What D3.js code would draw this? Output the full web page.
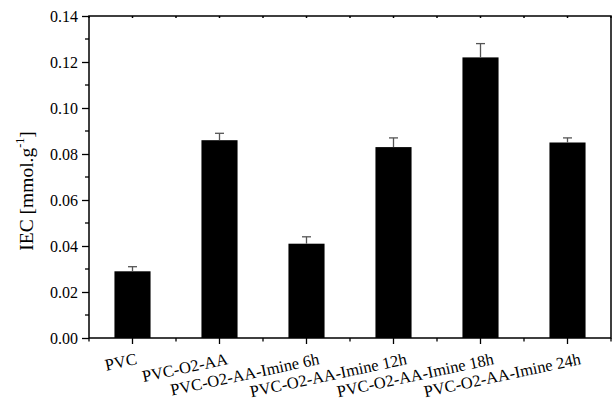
<!DOCTYPE html>
<html>
<head>
<meta charset="utf-8">
<script src="https://cdn.jsdelivr.net/npm/d3@7"></script>
<style>
  html, body { margin: 0; padding: 0; background: #fff; }
  svg { display: block; font-family: "Liberation Serif", "DejaVu Serif", serif; }
</style>
</head>
<body>
<svg id="chart" width="612" height="402"></svg>
<script>
/* ── IEC bar chart ───────────────────────────────────────────── */

const categories = [
  "PVC",
  "PVC-O2-AA",
  "PVC-O2-AA-Imine 6h",
  "PVC-O2-AA-Imine 12h",
  "PVC-O2-AA-Imine 18h",
  "PVC-O2-AA-Imine 24h",
];
const iecValues = [0.029, 0.086, 0.041, 0.083, 0.122, 0.085];
const iecErrors = [0.002, 0.003, 0.003, 0.004, 0.006, 0.002];
const yTicks    = [0, 0.02, 0.04, 0.06, 0.08, 0.10, 0.12, 0.14];
const yMinor    = [0.01, 0.03, 0.05, 0.07, 0.09, 0.11, 0.13];

const W = 612, H = 402;
const M = { left: 89, right: 1, top: 16, bottom: 64 };

const svg = d3.select("#chart");

const x = d3.scaleBand()
  .domain(categories)
  .range([M.left, W - M.right])
  .paddingInner(0)
  .paddingOuter(0);

const y = d3.scaleLinear()
  .domain([0, 0.14])
  .range([H - M.bottom, M.top]);

const barW = x.bandwidth() * 0.415;
const x0 = M.left, x1 = W - M.right;
const y0 = H - M.bottom, y1 = M.top;

// ── Bars ─────────────────────────────────────────────────────────
svg.append("g")
  .selectAll("rect")
  .data(categories)
  .join("rect")
    .attr("x", d => x(d) + x.bandwidth() / 2 - barW / 2)
    .attr("y", (d, i) => y(iecValues[i]))
    .attr("width", barW)
    .attr("height", (d, i) => y0 - y(iecValues[i]))
    .attr("fill", "#000");

// ── Error bars (upper only) ──────────────────────────────────────
const eb = svg.append("g")
  .attr("stroke", "#555")
  .attr("stroke-width", 1.3);

categories.forEach((c, i) => {
  const cx = x(c) + x.bandwidth() / 2;
  eb.append("line")
    .attr("x1", cx).attr("x2", cx)
    .attr("y1", y(iecValues[i])).attr("y2", y(iecValues[i] + iecErrors[i]));
  eb.append("line")
    .attr("x1", cx - 4.5).attr("x2", cx + 4.5)
    .attr("y1", y(iecValues[i] + iecErrors[i])).attr("y2", y(iecValues[i] + iecErrors[i]));
});

// ── Axes ─────────────────────────────────────────────────────────
const yAxis = d3.axisLeft(y)
  .tickValues(yTicks)
  .tickSize(7)
  .tickPadding(4)
  .tickFormat(d3.format(".2f"));

const yg = svg.append("g")
  .attr("transform", `translate(${x0},0)`)
  .call(yAxis);

yg.select(".domain").remove();
yg.selectAll(".tick line").attr("stroke", "#000").attr("stroke-width", 1.3);
yg.selectAll(".tick text")
  .attr("fill", "#000")
  .attr("font-size", 16)
  .attr("font-family", "Liberation Serif, serif");

// minor y ticks
svg.append("g")
  .selectAll("line")
  .data(yMinor)
  .join("line")
    .attr("x1", x0 - 4).attr("x2", x0)
    .attr("y1", d => y(d)).attr("y2", d => y(d))
    .attr("stroke", "#000").attr("stroke-width", 1.3);

// bottom ticks: long at categories, short at band edges
const edges = categories.map(c => x(c)).concat([x1]);

svg.append("g")
  .selectAll("line")
  .data(categories)
  .join("line")
    .attr("x1", d => x(d) + x.bandwidth() / 2)
    .attr("x2", d => x(d) + x.bandwidth() / 2)
    .attr("y1", y0).attr("y2", y0 + 6)
    .attr("stroke", "#000").attr("stroke-width", 1.3);

svg.append("g")
  .selectAll("line")
  .data(edges)
  .join("line")
    .attr("x1", d => d).attr("x2", d => d)
    .attr("y1", y0).attr("y2", y0 + 3.5)
    .attr("stroke", "#000").attr("stroke-width", 1.3);

// top ticks (tiny, inward)
const topMarks = categories.map(c => x(c) + x.bandwidth() / 2).concat(edges);
svg.append("g")
  .selectAll("line")
  .data(topMarks)
  .join("line")
    .attr("x1", d => d).attr("x2", d => d)
    .attr("y1", y1).attr("y2", y1 + 2)
    .attr("stroke", "#000").attr("stroke-width", 1.5);

// frame
svg.append("path")
  .attr("d", `M${x0},${y1}H${x1}V${y0}H${x0}Z`)
  .attr("fill", "none")
  .attr("stroke", "#000")
  .attr("stroke-width", 1.5);

// ── Category labels (rotated) ────────────────────────────────────
const lab = svg.append("g")
  .selectAll("text")
  .data(categories)
  .join("text")
    .attr("text-anchor", "end")
    .attr("font-size", 16.5)
    .attr("fill", "#000")
    .text(d => d);

lab.attr("transform", function (d) {
  const L = this.getComputedTextLength();
  const cx = x(d) + x.bandwidth() / 2 + 3 + 0.07 * L;
  return `translate(${cx},${y0 + 26}) rotate(-12)`;
});

// ── Y title ──────────────────────────────────────────────────────
const yt = svg.append("text")
  .attr("transform", `translate(33,191) rotate(-90)`)
  .attr("text-anchor", "middle")
  .attr("font-size", 19.5)
  .attr("fill", "#000");

yt.append("tspan").text("IEC [mmol.g");
yt.append("tspan").attr("font-size", 12).attr("dy", -9).text("-1");
yt.append("tspan").attr("dy", 9).text("]");
</script>
</body>
</html>
